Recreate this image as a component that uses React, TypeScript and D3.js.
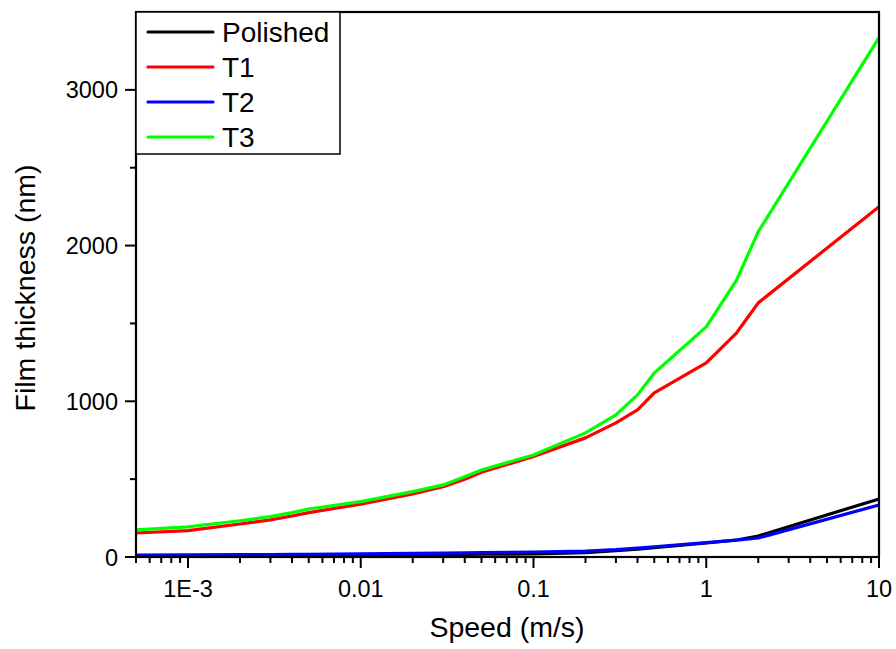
import React from "react";
import * as d3 from "d3";

const speed = [5e-4, 1e-3, 2e-3, 3e-3, 4e-3, 5e-3, 0.01, 0.02, 0.03, 0.04, 0.05, 0.1, 0.2, 0.3, 0.4, 0.5, 1, 1.5, 2, 10];
const polished = [5, 6, 7, 8, 8, 9, 10, 12, 14, 16, 18, 20, 28, 40, 50, 60, 90, 109, 135, 373];
const t1 = [154, 169, 212, 238, 263, 285, 340, 405, 452, 499, 544, 645, 765, 861, 945, 1054, 1247, 1440, 1632, 2250];
const t2 = [13, 14, 15, 16, 17, 17, 20, 23, 25, 27, 28, 32, 38, 47, 57, 66, 92, 108, 122, 334];
const t3 = [174, 193, 233, 259, 285, 308, 356, 420, 463, 516, 559, 655, 797, 913, 1041, 1182, 1478, 1780, 2089, 3335];

const seriesNames = ["Polished", "T1", "T2", "T3"];
const seriesColors = ["#000000", "#ff0000", "#0000ff", "#00ff00"];
const seriesValues = [polished, t1, t2, t3];

const xMajor = [1e-3, 0.01, 0.1, 1, 10];
const xMajorLabels = ["1E-3", "0.01", "0.1", "1", "10"];
const yMajor = [0, 1000, 2000, 3000];
const yMinor = [500, 1500, 2500];

const W = 896, H = 649;
const L = 136, R = 879, T = 12, B = 557;
const FONT = "'Liberation Sans', Arial, sans-serif";

export default function App() {
  const x = d3.scaleLog().domain([5e-4, 10]).range([L, R]);
  const y = d3.scaleLinear().domain([0, 3500]).range([B, T]);
  const line = d3.line<[number, number]>().x(d => x(d[0])).y(d => y(d[1]));

  const xMinor: number[] = [];
  for (let e = -4; e <= 0; e++) {
    for (let m = 2; m <= 9; m++) {
      const v = m * Math.pow(10, e);
      if (v >= 5e-4 && v <= 10 && !xMajor.includes(v)) xMinor.push(v);
    }
  }
  xMinor.push(5e-4);

  return (
    <svg width={W} height={H} style={{ position: "absolute", left: 0, top: 0, background: "#fff" }} fontFamily={FONT}>
      <rect x={0} y={0} width={W} height={H} fill="#fff" />
      {seriesValues.map((vals, i) => (
        <path key={i} d={line(speed.map((s, j) => [s, vals[j]] as [number, number])) || ""}
          fill="none" stroke={seriesColors[i]} strokeWidth={3.2} strokeLinejoin="round" />
      ))}
      {/* frame */}
      <rect x={L} y={T} width={R - L} height={B - T} fill="none" stroke="#000" strokeWidth={2.2} />
      {/* x ticks */}
      {xMajor.map((v, i) => (
        <g key={"xm" + i}>
          <line x1={x(v)} x2={x(v)} y1={B} y2={B + 11} stroke="#000" strokeWidth={2} />
          <text x={x(v)} y={597} textAnchor="middle" fontSize={23.5}>{xMajorLabels[i]}</text>
        </g>
      ))}
      {xMinor.map((v, i) => (
        <line key={"xn" + i} x1={x(v)} x2={x(v)} y1={B} y2={B + 6} stroke="#000" strokeWidth={2} />
      ))}
      {/* y ticks */}
      {yMajor.map((v, i) => (
        <g key={"ym" + i}>
          <line x1={L - 11} x2={L} y1={y(v)} y2={y(v)} stroke="#000" strokeWidth={2} />
          <text x={118} y={y(v) + 8.5} textAnchor="end" fontSize={23.5}>{v}</text>
        </g>
      ))}
      {yMinor.map((v, i) => (
        <line key={"yn" + i} x1={L - 6} x2={L} y1={y(v)} y2={y(v)} stroke="#000" strokeWidth={2} />
      ))}
      {/* axis titles */}
      <text x={507} y={637} textAnchor="middle" fontSize={28.5}>Speed (m/s)</text>
      <text transform={`translate(35,288) rotate(-90)`} textAnchor="middle" fontSize={28.5}>Film thickness (nm)</text>
      {/* legend */}
      <rect x={L} y={T} width={204} height={142} fill="#fff" stroke="#000" strokeWidth={1.5} />
      {seriesNames.map((n, i) => {
        const cy = 32 + i * 35;
        return (
          <g key={"lg" + i}>
            <line x1={148} x2={213} y1={cy} y2={cy} stroke={seriesColors[i]} strokeWidth={3.2} strokeLinecap="round" />
            <text x={222} y={cy + 9.5} fontSize={28}>{n}</text>
          </g>
        );
      })}
    </svg>
  );
}
